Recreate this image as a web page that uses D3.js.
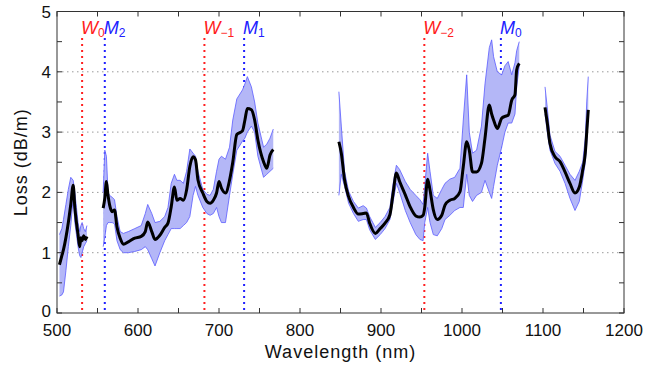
<!DOCTYPE html>
<html>
<head>
<meta charset="utf-8">
<script src="https://cdn.jsdelivr.net/npm/d3@7"></script>
<style>
  body { margin: 0; background: #fff; }
  text { font-family: "Liberation Sans", Arial, sans-serif; }
</style>
</head>
<body>
<div class="chart"></div>
<script>
// rows: [wavelength nm, mean loss, lower, upper]  (dB/m)
var seg1 = [
  [503, 0.80, 0.28, 1.30], [506, 0.95, 0.30, 1.40], [508, 1.05, 0.35, 1.55],
  [511, 1.25, 0.70, 1.80], [514, 1.50, 1.10, 2.05], [517, 1.80, 1.45, 2.25],
  [520, 2.12, 1.90, 2.20], [522, 1.75, 1.50, 2.00], [524, 1.50, 1.30, 1.75],
  [526, 1.30, 1.10, 1.50], [528, 1.10, 0.95, 1.35], [529.5, 1.25, 0.92, 1.45],
  [531, 1.20, 1.00, 1.50], [533, 1.28, 1.10, 1.40], [535, 1.22, 1.15, 1.35],
  [537, 1.27, 1.20, 1.45]
];
var seg2 = [
  [557, 1.74, 1.10, 2.00], [559, 1.90, 1.25, 2.70], [561, 2.18, 1.45, 2.60],
  [563, 1.95, 1.50, 2.00], [565, 1.79, 1.50, 1.95], [568, 1.68, 1.50, 1.92],
  [571, 1.71, 1.48, 1.88], [574, 1.43, 1.20, 1.60], [578, 1.24, 1.05, 1.35],
  [582, 1.14, 1.00, 1.32], [588, 1.18, 1.00, 1.35], [596, 1.24, 1.02, 1.40],
  [604, 1.27, 1.05, 1.45], [609, 1.35, 1.10, 1.65], [612, 1.51, 1.05, 1.80],
  [617, 1.35, 0.90, 1.65], [621, 1.22, 0.78, 1.50], [627, 1.29, 1.00, 1.52],
  [633, 1.42, 1.20, 1.60], [637, 1.49, 1.30, 1.75], [641, 1.76, 1.40, 2.15],
  [645, 2.09, 1.40, 2.30], [648, 1.87, 1.40, 2.20], [652, 1.90, 1.40, 2.20],
  [656, 1.87, 1.45, 2.15], [660, 2.04, 1.50, 2.35], [664, 2.43, 1.60, 2.72],
  [668, 2.59, 1.95, 2.65], [671, 2.54, 2.10, 2.60], [674, 2.21, 1.95, 2.35],
  [680, 1.99, 1.75, 2.05], [685, 1.85, 1.65, 1.97], [689, 1.82, 1.62, 1.95],
  [693, 1.87, 1.65, 2.05], [697, 1.99, 1.75, 2.35], [700, 2.18, 1.60, 2.55],
  [703, 2.07, 1.50, 2.60], [708, 1.99, 1.50, 2.55], [713, 2.20, 1.95, 2.75],
  [717, 2.50, 2.30, 3.20], [722, 2.96, 2.70, 3.55], [729, 3.02, 2.85, 3.70],
  [732, 3.20, 2.90, 3.80], [735, 3.39, 3.00, 3.92], [740, 3.37, 3.10, 3.75],
  [744, 3.20, 3.00, 3.50], [748, 2.87, 2.60, 3.15], [755, 2.51, 2.25, 2.75],
  [759, 2.40, 2.30, 2.80], [763, 2.62, 2.35, 2.90], [767, 2.71, 2.40, 3.05]
];
var seg3 = [
  [848, 2.84, 1.95, 3.67], [851, 2.65, 2.30, 3.10], [855, 2.21, 2.10, 2.35],
  [860, 1.93, 1.82, 2.02], [866, 1.75, 1.65, 1.85], [872, 1.64, 1.52, 1.74],
  [878, 1.65, 1.55, 1.78], [882, 1.66, 1.55, 1.74], [886, 1.49, 1.38, 1.60],
  [893, 1.32, 1.22, 1.42], [899, 1.40, 1.30, 1.50], [905, 1.49, 1.40, 1.60],
  [911, 1.63, 1.55, 1.75], [915, 1.99, 1.85, 2.15], [919, 2.32, 2.15, 2.45],
  [923, 2.18, 2.00, 2.38], [930, 1.96, 1.70, 2.18], [936, 1.76, 1.50, 2.05],
  [943, 1.61, 1.30, 1.95], [948, 1.59, 1.22, 1.88], [952, 1.62, 1.20, 1.80],
  [954, 1.75, 1.50, 2.10], [957.6, 2.22, 1.75, 2.65], [960.5, 2.04, 1.50, 2.35],
  [964.6, 1.71, 1.30, 1.95], [969.5, 1.55, 1.28, 1.90], [975, 1.62, 1.40, 2.05],
  [979, 1.79, 1.55, 2.15], [985, 1.87, 1.62, 2.22], [991, 1.90, 1.70, 2.25],
  [997.5, 2.01, 1.75, 2.40], [1001.6, 2.43, 1.75, 3.20], [1005.8, 2.84, 2.30, 3.95],
  [1009, 2.70, 1.95, 3.00], [1013, 2.34, 1.85, 2.65], [1018, 2.34, 1.95, 2.70],
  [1024, 2.48, 2.00, 3.10], [1028.4, 2.90, 2.20, 3.80], [1033.7, 3.45, 2.00, 4.40],
  [1036.6, 3.30, 1.90, 4.53], [1039, 3.20, 2.10, 4.25], [1043.6, 3.06, 2.45, 4.00],
  [1049, 3.23, 2.75, 3.95], [1053, 3.26, 3.00, 4.10], [1057, 3.28, 3.15, 4.17],
  [1061.4, 3.53, 3.15, 3.95], [1065.4, 3.62, 3.30, 4.15], [1067.5, 4.03, 3.75, 4.35],
  [1070.7, 4.14, 4.10, 4.50]
];
var seg4 = [
  [1102.5, 3.41, 3.30, 3.75], [1105.3, 3.15, 3.00, 3.40], [1108.6, 2.81, 2.70, 2.95],
  [1114.8, 2.59, 2.48, 2.68], [1121, 2.51, 2.35, 2.60], [1127.2, 2.34, 2.15, 2.45],
  [1133.3, 2.15, 1.90, 2.30], [1139.5, 1.99, 1.70, 2.20], [1144.8, 2.09, 1.85, 2.35],
  [1149, 2.37, 2.20, 2.50], [1152.2, 2.65, 2.50, 2.90], [1154, 3.00, 2.80, 3.50],
  [1155.9, 3.37, 3.30, 3.92]
];

// mode markers
var markerWl = [531, 559, 682, 731, 953.5, 1048];
var markerName = ["W", "M", "W", "M", "W", "M"];
var markerSub = ["0", "2", "\u22121", "1", "\u22122", "0"];

var xTicks = [500, 600, 700, 800, 900, 1000, 1100, 1200];
var yTicks = [0, 1, 2, 3, 4, 5];
var gridVals = [1, 2, 3, 4];

var width = 662, height = 366;
var margin = { left: 57, right: 38, top: 11.5, bottom: 53 };

var x = d3.scaleLinear().domain([500, 1200]).range([margin.left, width - margin.right]);
var y = d3.scaleLinear().domain([0, 5]).range([height - margin.bottom, margin.top]);

var svg = d3.select(".chart").append("svg")
  .attr("width", width)
  .attr("height", height);

// grid
svg.append("g")
  .selectAll("line")
  .data(gridVals)
  .enter()
  .append("line")
  .attr("x1", x(500)).attr("x2", x(1200))
  .attr("y1", function (d) { return y(d); })
  .attr("y2", function (d) { return y(d); })
  .attr("stroke", "#9a9a9a")
  .attr("stroke-width", 1)
  .attr("stroke-dasharray", "1.5,3.5");

// vertical marker lines
var markColor = function (i) { return markerName[i] == "W" ? "#ff2020" : "#2020ff"; };
svg.append("g")
  .selectAll("line")
  .data(markerWl)
  .enter()
  .append("line")
  .attr("x1", function (d) { return x(d); })
  .attr("x2", function (d) { return x(d); })
  .attr("y1", 38)
  .attr("y2", y(0))
  .attr("stroke", function (d, i) { return markColor(i); })
  .attr("stroke-width", 2)
  .attr("stroke-dasharray", "2,4");

var labels = svg.append("g")
  .selectAll("text")
  .data(markerWl)
  .enter()
  .append("text")
  .attr("x", function (d) { return x(d) - 1; })
  .attr("y", 34)
  .attr("fill", function (d, i) { return markColor(i); })
  .style("font-size", "18px");
labels.append("tspan")
  .style("font-style", "italic")
  .text(function (d, i) { return markerName[i]; });
labels.append("tspan")
  .attr("dy", 3)
  .style("font-size", "12px")
  .text(function (d, i) { return markerSub[i]; });

// bands and mean lines
var area = d3.area()
  .x(function (d) { return x(d[0]); })
  .y0(function (d) { return y(d[2]); })
  .y1(function (d) { return y(d[3]); });
var lo = d3.line().x(function (d) { return x(d[0]); }).y(function (d) { return y(d[2]); });
var hi = d3.line().x(function (d) { return x(d[0]); }).y(function (d) { return y(d[3]); });
var mean = d3.line()
  .x(function (d) { return x(d[0]); })
  .y(function (d) { return y(d[1]); })
  .curve(d3.curveMonotoneX);

[seg1, seg2, seg3, seg4].forEach(function (seg) {
  svg.append("path").attr("d", area(seg))
    .attr("fill", "#b4b7f7");
  svg.append("path").attr("d", lo(seg))
    .attr("fill", "none").attr("stroke", "#5b5cff").attr("stroke-width", 0.8);
  svg.append("path").attr("d", hi(seg))
    .attr("fill", "none").attr("stroke", "#5b5cff").attr("stroke-width", 0.8);
  svg.append("path").attr("d", mean(seg))
    .attr("fill", "none").attr("stroke", "#000").attr("stroke-width", 3)
    .attr("stroke-linejoin", "round");
});

// frame + ticks (inward, major and minor)
var x0 = x(500), x1 = x(1200), y0 = y(0), y1 = y(5);
svg.append("rect")
  .attr("x", x0).attr("y", y1)
  .attr("width", x1 - x0).attr("height", y0 - y1)
  .attr("fill", "none").attr("stroke", "#333").attr("stroke-width", 1);

var xt = d3.range(500, 1201, 50);
var yt = d3.range(0, 5.01, 0.5);
var tk = svg.append("g").attr("stroke", "#333").attr("stroke-width", 1);
xt.forEach(function (v) {
  tk.append("line").attr("x1", x(v)).attr("x2", x(v)).attr("y1", y0).attr("y2", y0 - 5);
  tk.append("line").attr("x1", x(v)).attr("x2", x(v)).attr("y1", y1).attr("y2", y1 + 5);
});
yt.forEach(function (v) {
  tk.append("line").attr("x1", x0).attr("x2", x0 + 5).attr("y1", y(v)).attr("y2", y(v));
  tk.append("line").attr("x1", x1).attr("x2", x1 - 5).attr("y1", y(v)).attr("y2", y(v));
});

svg.append("g")
  .selectAll("text")
  .data(xTicks)
  .enter()
  .append("text")
  .attr("x", function (d) { return x(d); })
  .attr("y", y0 + 23)
  .attr("text-anchor", "middle")
  .style("font-size", "17px")
  .attr("fill", "#111")
  .text(function (d) { return d; });

svg.append("g")
  .selectAll("text")
  .data(yTicks)
  .enter()
  .append("text")
  .attr("x", x0 - 6)
  .attr("y", function (d) { return y(d) + (d == 0 ? 4 : 6); })
  .attr("text-anchor", "end")
  .style("font-size", "17px")
  .attr("fill", "#111")
  .text(function (d) { return d; });

svg.append("text")
  .attr("x", (x0 + x1) / 2)
  .attr("y", 358)
  .attr("text-anchor", "middle")
  .style("font-size", "18px")
  .style("letter-spacing", "1px")
  .attr("fill", "#111")
  .text("Wavelength (nm)");

svg.append("text")
  .attr("transform", "translate(27," + ((y0 + y1) / 2) + ") rotate(-90)")
  .attr("text-anchor", "middle")
  .style("font-size", "18px")
  .style("letter-spacing", "1px")
  .attr("fill", "#111")
  .text("Loss (dB/m)");
</script>
</body>
</html>
